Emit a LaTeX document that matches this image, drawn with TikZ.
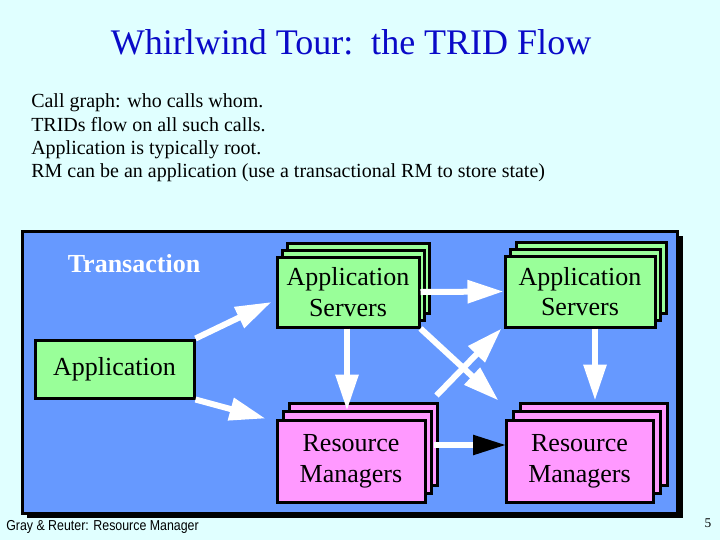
\documentclass[tikz,border=0pt]{standalone}
\usepackage{fontspec}
\setmainfont{Liberation Serif}
\newfontfamily\footfont[FakeStretch=0.86]{Liberation Sans}
\usetikzlibrary{arrows.meta,calc}
\definecolor{bgcyan}{RGB}{224,255,255}
\definecolor{panelblue}{RGB}{102,153,255}
\definecolor{boxgreen}{RGB}{153,255,153}
\definecolor{boxpink}{RGB}{255,153,255}
\definecolor{titleblue}{RGB}{10,10,200}
\begin{document}
\begin{tikzpicture}[x=0.75pt,y=-0.75pt,
  boxtext/.style={font=\fontsize{19.5}{23}\selectfont, align=center},
  gbox/.style={draw=black, line width=2.25pt, fill=boxgreen, inner sep=0pt, boxtext},
  pbox/.style={draw=black, line width=2.25pt, fill=boxpink, inner sep=0pt, boxtext},
  flow/.style={draw=white, line width=4.5pt, -{Triangle[length=27pt,width=16.5pt,color=white]}},
  blackflow/.style={draw=white, line width=4.5pt, -{Triangle[length=25pt,width=14pt,color=black]}},
  bodytext/.style={anchor=base west, font=\fontsize{15}{18}\selectfont, inner sep=0pt}
]
\useasboundingbox (0,0) rectangle (720,540);
\fill[bgcyan] (0,0) rectangle (720,540);

% title and body
\node[anchor=base, text=titleblue, font=\fontsize{27}{32}\selectfont, inner sep=0pt] (title) at (351,54) {Whirlwind Tour:\ \ the TRID Flow};
\node[bodytext] (l1) at (31,107) {Call graph: who calls whom.};
\node[bodytext] (l2) at (31,131) {TRIDs flow on all such calls.};
\node[bodytext] (l3) at (31,154) {Application is typically root.};
\node[bodytext] (l4) at (31,177) {RM can be an application (use a transactional RM to store state)};

% panel
\fill[black] (27,236) rectangle (683,518);
\filldraw[fill=panelblue, draw=black, line width=2.25pt] (22.5,231.5) rectangle (677,513);

\node[anchor=center, text=white, font=\bfseries\fontsize{19.5}{23}\selectfont, inner sep=0pt] (trans) at (134,264) {Transaction};

% stacked boxes positions
\coordinate (as1p) at (348,292);
\coordinate (as2p) at (580,291.5);
\coordinate (rm1p) at (351,461);
\coordinate (rm2p) at (579.5,461);

% application servers 1
\node[gbox, minimum width={142*0.75pt}, minimum height={70*0.75pt}] (as1c) at ($(as1p)+(10,-14)$) {};
\node[gbox, minimum width={142*0.75pt}, minimum height={70*0.75pt}] (as1b) at ($(as1p)+(5,-7)$) {};
\node[gbox, minimum width={142*0.75pt}, minimum height={70*0.75pt}] (as1) at (as1p) {Application\\Servers};

% application servers 2
\node[gbox, minimum width={150*0.75pt}, minimum height={71*0.75pt}] (as2c) at ($(as2p)+(11,-14)$) {};
\node[gbox, minimum width={150*0.75pt}, minimum height={71*0.75pt}] (as2b) at ($(as2p)+(5.5,-7)$) {};
\node[gbox, minimum width={150*0.75pt}, minimum height={71*0.75pt}] (as2) at (as2p) {Application\\Servers};

% resource managers 1
\node[pbox, minimum width={148*0.75pt}, minimum height={82*0.75pt}] (rm1c) at ($(rm1p)+(12,-17)$) {};
\node[pbox, minimum width={148*0.75pt}, minimum height={82*0.75pt}] (rm1b) at ($(rm1p)+(6,-9)$) {};
\node[pbox, minimum width={148*0.75pt}, minimum height={82*0.75pt}] (rm1) at (rm1p) {Resource\\Managers};

% resource managers 2
\node[pbox, minimum width={147*0.75pt}, minimum height={82*0.75pt}] (rm2c) at ($(rm2p)+(14,-17)$) {};
\node[pbox, minimum width={147*0.75pt}, minimum height={82*0.75pt}] (rm2b) at ($(rm2p)+(7,-9)$) {};
\node[pbox, minimum width={147*0.75pt}, minimum height={82*0.75pt}] (rm2) at (rm2p) {Resource\\Managers};

% application
\node[gbox, minimum width={159*0.75pt}, minimum height={58*0.75pt}] (app) at (114.5,369) {Application};

% arrows
\draw[flow] (app.north east) -- ($(as1.west)+(-4,10)$);
\draw[flow] (app.south east) -- ($(rm1.north west)+(-10,0)$);
\draw[flow] ($(as1.south)+(-1,0)$) -- ($(as1.south |- rm1.north)+(-1,-8)$);
\draw[flow] (as1.east) -- (as2.west);
\draw[flow] (as1.south east) -- ($(rm2.north west)+(-6,-18)$);
\draw[flow] ($(rm1.north east)+(10,-23)$) -- ($(as2.south west)+(-2,0)$);
\coordinate (as2d) at ($(as2.south)+(15,0)$);
\draw[flow] (as2d) -- ($(as2d |- rm2.north)+(0,-18)$);
\draw[blackflow] ($(rm1.east)+(7,-16)$) -- ($(rm2.west)+(2,-16)$);

% footer
\node[anchor=base west, font=\footfont\fontsize{10.8}{12}\selectfont, inner sep=0pt] (foot) at (6,530) {Gray \& Reuter: Resource Manager};
\node[anchor=base, font=\fontsize{10}{12}\selectfont, inner sep=0pt] (pg) at (708,527) {5};
\end{tikzpicture}
\end{document}
